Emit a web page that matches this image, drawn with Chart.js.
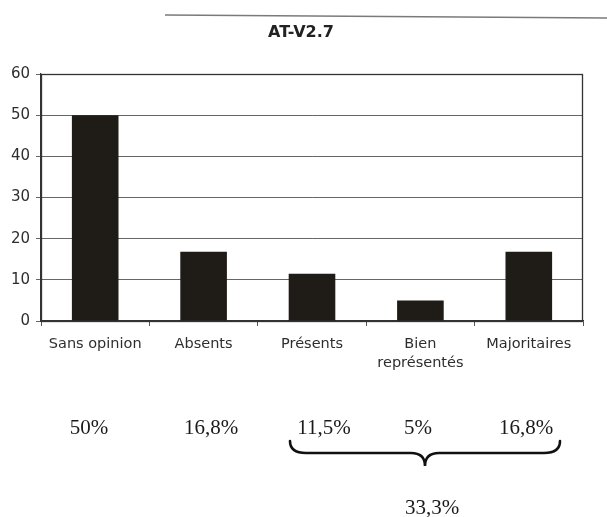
<!DOCTYPE html>
<html lang="fr">
<head>
<meta charset="utf-8">
<title>AT-V2.7</title>
<script src="https://cdn.jsdelivr.net/npm/chart.js@4.4.1/dist/chart.umd.min.js"></script>
<style>
  html, body { margin: 0; padding: 0; background: #ffffff; }
  #wrap { position: relative; width: 607px; height: 517px; }
</style>
</head>
<body>
<div id="wrap"><canvas id="chart" width="607" height="517"></canvas></div>
<script>
// Répartition des réponses (en %)
const chartTitle = 'AT-V2.7';
const categories = ['Sans opinion', 'Absents', 'Présents', ['Bien', 'représentés'], 'Majoritaires'];
const values = [50, 16.8, 11.5, 5, 16.8];
const yTicks = [0, 10, 20, 30, 40, 50, 60];
// Indices des catégories regroupées sous l'accolade
const groupedIdx = [2, 3, 4];

const fmtPct = v => String(Math.round(v * 10) / 10).replace('.', ',') + '%';
const groupTotal = groupedIdx.reduce((s, i) => s + values[i], 0);
const axisFont = '"DejaVu Sans", Verdana, sans-serif';

// Titre, ligne de séparation, cadre du graphique, pourcentages et accolade
const annotations = {
  id: 'annotations',
  beforeDraw(chart) {
    const ctx = chart.ctx;
    ctx.save();
    ctx.strokeStyle = '#7a7a7a';
    ctx.lineWidth = 1.6;
    ctx.beginPath();
    ctx.moveTo(165, 15);
    ctx.lineTo(607, 18);
    ctx.stroke();

    ctx.fillStyle = '#222222';
    ctx.font = 'bold 16px ' + axisFont;
    ctx.textAlign = 'center';
    ctx.textBaseline = 'middle';
    ctx.fillText(chartTitle, 301, 33);
    ctx.restore();
  },
  afterDatasetsDraw(chart) {
    const { ctx, chartArea: a } = chart;
    ctx.save();
    ctx.strokeStyle = '#333333';
    ctx.lineWidth = 1.3;
    ctx.strokeRect(a.left + 0.5, a.top + 0.5, a.right - a.left - 1, a.bottom - a.top);
    ctx.restore();
  },
  afterDraw(chart) {
    const ctx = chart.ctx;
    ctx.save();
    ctx.fillStyle = '#1a1a1a';
    ctx.font = '21px "Liberation Serif", "Times New Roman", serif';
    ctx.textAlign = 'center';
    ctx.textBaseline = 'alphabetic';
    const textX = [89, 211, 324, 418, 526];
    values.forEach((v, i) => ctx.fillText(fmtPct(v), textX[i], 434));
    ctx.fillText(fmtPct(groupTotal), 432, 514);

    // accolade horizontale
    const L = 290, R = 560, M = 425, yTop = 441, yMid = 453, yTip = 466;
    ctx.strokeStyle = '#111111';
    ctx.lineWidth = 2.6;
    ctx.lineCap = 'round';
    ctx.beginPath();
    ctx.moveTo(L, yTop);
    ctx.quadraticCurveTo(L, yMid, L + 16, yMid);
    ctx.lineTo(M - 14, yMid);
    ctx.quadraticCurveTo(M, yMid, M, yTip);
    ctx.quadraticCurveTo(M, yMid, M + 14, yMid);
    ctx.lineTo(R - 16, yMid);
    ctx.quadraticCurveTo(R, yMid, R, yTop);
    ctx.stroke();
    ctx.restore();
  }
};

new Chart(document.getElementById('chart'), {
  type: 'bar',
  data: {
    labels: categories,
    datasets: [{
      data: values,
      backgroundColor: '#1f1b17',
      borderWidth: 0,
      categoryPercentage: 1,
      barPercentage: 0.43
    }]
  },
  options: {
    responsive: false,
    animation: false,
    layout: { padding: { left: 0, right: 24, top: 74, bottom: 0 } },
    plugins: {
      legend: { display: false },
      tooltip: { enabled: false },
      title: { display: false }
    },
    scales: {
      x: {
        grid: { drawOnChartArea: false, drawTicks: true, tickLength: 5, color: '#555555' },
        border: { display: true, color: '#333333', width: 1.3 },
        ticks: {
          color: '#2e2e2e',
          padding: 8,
          maxRotation: 0,
          autoSkip: false,
          font: { family: axisFont, size: 14.5, lineHeight: 1.35 }
        },
        afterFit(scale) { scale.height = 196; }
      },
      y: {
        min: 0,
        max: 60,
        afterBuildTicks(scale) { scale.ticks = yTicks.map(v => ({ value: v })); },
        grid: { color: '#666666', lineWidth: 1, drawTicks: true, tickLength: 5 },
        border: { display: true, color: '#333333', width: 1.3 },
        ticks: {
          color: '#2e2e2e',
          padding: 6,
          font: { family: axisFont, size: 15 }
        },
        afterFit(scale) { scale.width = 41; }
      }
    }
  },
  plugins: [annotations]
});
</script>
</body>
</html>
